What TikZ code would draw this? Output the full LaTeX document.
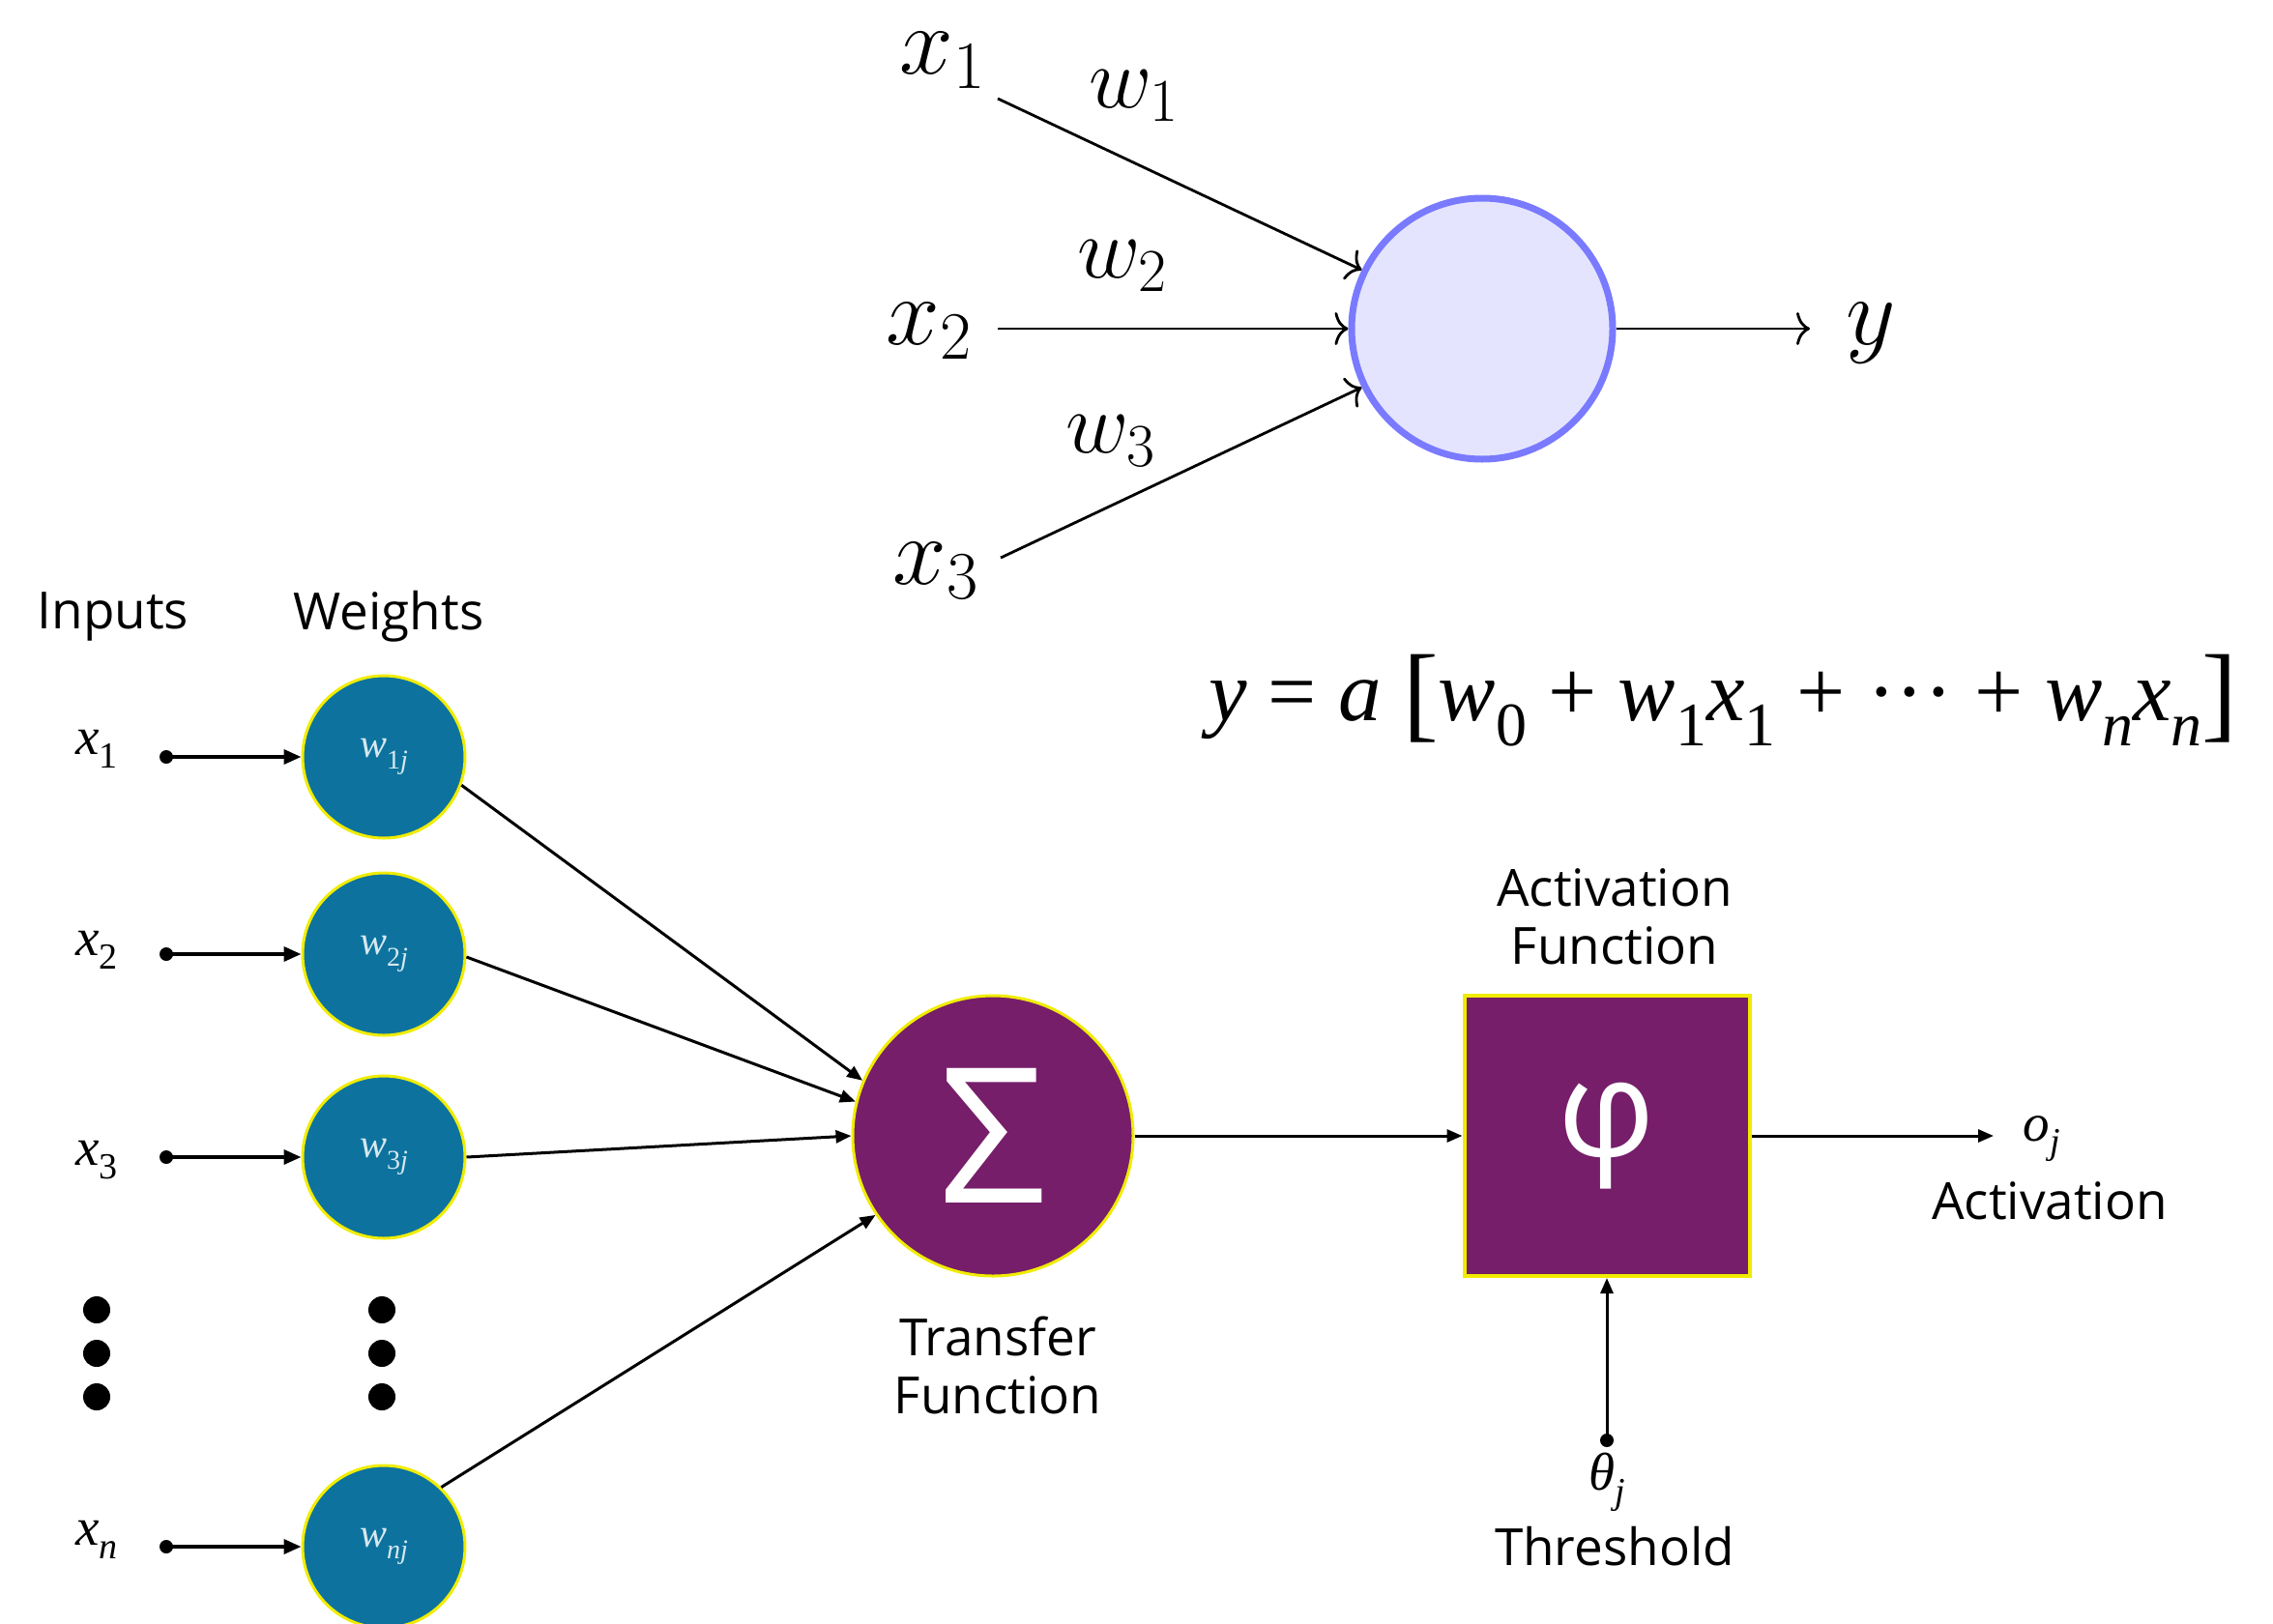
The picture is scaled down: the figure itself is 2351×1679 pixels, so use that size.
\RequirePackage{fix-cm}
\documentclass[tikz,border=0pt]{standalone}
\usepackage{fontspec}
\newfontfamily\osans{Open Sans}
\newfontfamily\tms{Liberation Serif}
\usetikzlibrary{arrows.meta}
\definecolor{wblue}{RGB}{13,115,158}
\definecolor{wyel}{RGB}{240,236,0}
\definecolor{purp}{RGB}{118,30,106}
\definecolor{nborder}{RGB}{122,122,255}
\definecolor{nfill}{RGB}{228,228,255}
\definecolor{wtext}{RGB}{215,232,240}
\newcommand\ssub[1]{\raisebox{-0.3em}{\fontsize{64}{64}\selectfont#1}}
\newcommand\bsub[1]{\raisebox{-0.25em}{\fontsize{38}{38}\selectfont#1}}
\newcommand\wsub[1]{\raisebox{-0.3em}{\fontsize{28}{28}\selectfont#1}}
\begin{document}
\begin{tikzpicture}[x=1pt,y=-1pt,
  mlab/.style={inner sep=0pt,font=\fontsize{100}{100}\selectfont},
  wlab/.style={inner sep=0pt,font=\fontsize{90}{90}\selectfont},
  toparrow/.style={line width=2.8pt,-{Computer Modern Rightarrow[length=14pt,width=34pt]}},
  slab/.style={inner sep=0pt,font=\osans\fontsize{53}{60}\selectfont,align=center},
  ilab/.style={inner sep=0pt,font=\tms\fontsize{55}{55}\selectfont},
  wnode/.style={circle,fill=wblue,draw=wyel,line width=3pt,minimum size=168pt,inner sep=0pt,text=wtext,font=\tms\itshape\fontsize{42}{42}\selectfont},
  dotn/.style={circle,fill=black,inner sep=0pt,minimum size=28pt},
  sdot/.style={circle,fill=black,inner sep=0pt,minimum size=14pt},
  inarrow/.style={line width=3.6pt,-{Triangle[length=18pt,width=15pt]}},
  carrow/.style={line width=3pt,-{Triangle[length=16pt,width=13pt]}}
]
\useasboundingbox (0,0) rectangle (2351,1679);
\clip (0,0) rectangle (2351,1679);
% ---------- top perceptron ----------
\node[circle,fill=nfill,draw=nborder,line width=7pt,minimum size=270pt,inner sep=0pt] (neuron) at (1533,340) {};
\node[mlab] (tx1) at (975,62) {$x_1$};
\node[mlab] (tx2) at (961,342) {$x_2$};
\node[mlab] (tx3) at (968,590) {$x_3$};
\node[wlab] (tw1) at (1173,99) {$w_1$};
\node[wlab] (tw2) at (1161,275) {$w_2$};
\node[wlab] (tw3) at (1149,456) {$w_3$};
\node[mlab] (ty) at (1935,345) {$y$};
\coordinate (s1) at (1032,102);
\coordinate (s2) at (1032,340);
\coordinate (s3) at (1035,577);
\coordinate (yend) at (1872,340);
\draw[toparrow] (s1) -- (neuron.154);
\draw[toparrow] (s2) -- (neuron.180);
\draw[toparrow] (s3) -- (neuron.206);
\draw[toparrow] (neuron.east) -- (yend);
% ---------- formula ----------
\node[inner sep=0pt,anchor=base west,font=\tms\fontsize{89}{89}\selectfont] (formula) at (1250,745)
  {\itshape y \upshape= \itshape a \upshape\raisebox{-0.1em}{\fontsize{110}{110}\selectfont[}\itshape w\ssub{\upshape 0} \upshape+ \itshape w\ssub{\upshape 1}x\ssub{\upshape 1} \upshape+ ··· + \itshape w\ssub{n}x\ssub{n}\upshape\raisebox{-0.1em}{\fontsize{110}{110}\selectfont]}};
% ---------- bottom neuron ----------
\node[slab] (inputs) at (117,638) {Inputs};
\node[slab] (weights) at (402,638) {Weights};
\node[wnode] (w1) at (397,783) {w\wsub{\upshape 1\itshape j}};
\node[wnode] (w2) at (397,987) {w\wsub{\upshape 2\itshape j}};
\node[wnode] (w3) at (397,1197) {w\wsub{\upshape 3\itshape j}};
\node[wnode] (wn) at (397,1600) {w\wsub{nj}};
\node[ilab] (x1) at (100,775) {\itshape x\bsub{\upshape 1}};
\node[ilab] (x2) at (100,983) {\itshape x\bsub{\upshape 2}};
\node[ilab] (x3) at (100,1200) {\itshape x\bsub{\upshape 3}};
\node[ilab] (xn) at (100,1593) {\itshape x\bsub{n}};
\node[sdot] (d1) at (172,783) {};
\node[sdot] (d2) at (172,987) {};
\node[sdot] (d3) at (172,1197) {};
\node[sdot] (dn) at (172,1600) {};
\draw[inarrow] (d1.center) -- (w1.west);
\draw[inarrow] (d2.center) -- (w2.west);
\draw[inarrow] (d3.center) -- (w3.west);
\draw[inarrow] (dn.center) -- (wn.west);
\node[dotn] (la) at (100,1355) {};
\node[dotn] (lb) at (100,1400) {};
\node[dotn] (lc) at (100,1445) {};
\node[dotn] (ra) at (395,1355) {};
\node[dotn] (rb) at (395,1400) {};
\node[dotn] (rc) at (395,1445) {};
\node[circle,fill=purp,draw=wyel,line width=3pt,minimum size=290pt,inner sep=0pt,text=white,font=\osans\fontsize{195}{195}\selectfont] (sigma) at (1027,1175) {Σ};
\draw[carrow] (w1.-20) -- (sigma.157);
\draw[carrow] (w2.-2) -- (sigma.166);
\draw[carrow] (w3.east) -- (sigma.180);
\draw[carrow] (wn.46) -- (sigma.214);
\node[slab] (transfer) at (1032,1412) {Transfer\\Function};
\node[rectangle,fill=purp,draw=wyel,line width=4pt,minimum width=295pt,minimum height=290pt,inner sep=0pt,text=white,font=\osans\fontsize{140}{140}\selectfont] (phi) at (1662,1175) {φ};
\node[slab] (actf) at (1670,948) {Activation\\Function};
\draw[carrow] (sigma.east) -- (phi.west);
\coordinate (oend) at (2062,1175);
\draw[carrow] (phi.east) -- (oend);
\node[ilab] (oj) at (2112,1178) {\itshape o\bsub{j}};
\node[slab] (act) at (2120,1242) {Activation};
\node[sdot] (td) at (1662,1490) {};
\draw[carrow] (td.center) -- (phi.south);
\node[ilab] (theta) at (1662,1533) {\itshape θ\bsub{j}};
\node[slab] (thr) at (1670,1600) {Threshold};
\end{tikzpicture}
\end{document}
